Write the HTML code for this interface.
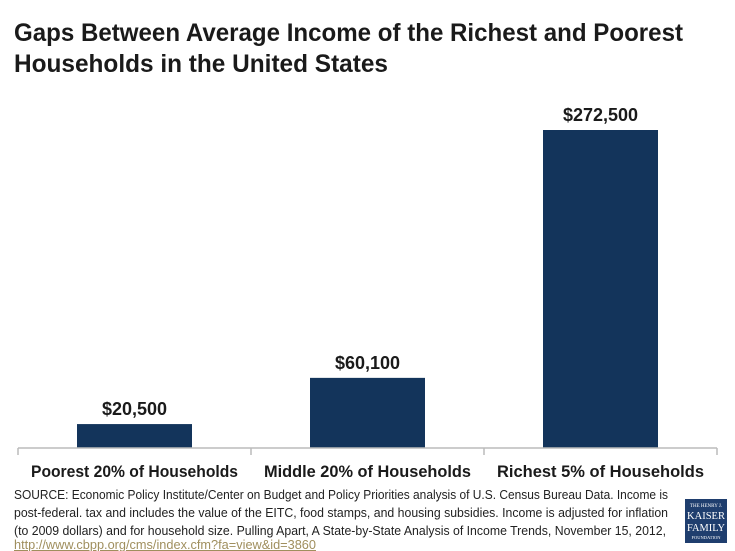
<!DOCTYPE html>
<html><head><meta charset="utf-8"><style>
html,body{margin:0;padding:0;background:#fff;}
svg{display:block;font-family:"Liberation Sans",sans-serif;}
</style></head><body>
<svg id="chart" width="735" height="551" viewBox="0 0 735 551">
<text x="14" y="41" font-size="25" font-weight="bold" fill="#1a1a1a" textLength="669" lengthAdjust="spacingAndGlyphs">Gaps Between Average Income of the Richest and Poorest</text>
<text x="14" y="72" font-size="25" font-weight="bold" fill="#1a1a1a" textLength="374" lengthAdjust="spacingAndGlyphs">Households in the United States</text>
<g id="bars"></g>
<line x1="18" y1="448" x2="717" y2="448" stroke="#bbb" stroke-width="1.5"/>
<g id="ticks"></g>
<g font-size="13" fill="#222">
<text x="14" y="499" textLength="654" lengthAdjust="spacingAndGlyphs">SOURCE: Economic Policy Institute/Center on Budget and Policy Priorities analysis of U.S. Census Bureau Data. Income is</text>
<text x="14" y="517" textLength="654" lengthAdjust="spacingAndGlyphs">post-federal. tax and includes the value of the EITC, food stamps, and housing subsidies. Income is adjusted for inflation</text>
<text x="14" y="535" textLength="652" lengthAdjust="spacingAndGlyphs">(to 2009 dollars) and for household size. Pulling Apart, A State-by-State Analysis of Income Trends, November 15, 2012,</text>
<text x="14" y="549" fill="#a08f5e" text-decoration="underline" textLength="302" lengthAdjust="spacingAndGlyphs">http://www.cbpp.org/cms/index.cfm?fa=view&amp;id=3860</text>
</g>
<g>
<rect x="685" y="499" width="42" height="44" fill="#1f3e6e"/>
<text x="706" y="507" font-size="5" fill="#fff" text-anchor="middle" font-family="Liberation Serif,serif">THE HENRY J.</text>
<text x="706" y="519" font-size="10" fill="#fff" text-anchor="middle" font-family="Liberation Serif,serif" textLength="38" lengthAdjust="spacingAndGlyphs">KAISER</text>
<text x="706" y="531" font-size="10" fill="#fff" text-anchor="middle" font-family="Liberation Serif,serif" textLength="38" lengthAdjust="spacingAndGlyphs">FAMILY</text>
<text x="706" y="539" font-size="4.5" fill="#fff" text-anchor="middle" font-family="Liberation Serif,serif">FOUNDATION</text>
</g>
</svg>
<script>
const categories = ["Poorest 20% of Households","Middle 20% of Households","Richest 5% of Households"];
const values = [20500, 60100, 272500];
const valueLabels = ["$20,500","$60,100","$272,500"];
const yMax = 272500;

const NS = "http://www.w3.org/2000/svg";
const plotLeft = 18, plotRight = 717, baseY = 448, topY = 130;
const band = (plotRight - plotLeft) / categories.length;
const barW = 115;
function xCenter(i){ return plotLeft + band * (i + 0.5); }
function yScale(v){ return baseY - (v / yMax) * (baseY - topY); }

const bars = document.getElementById("bars");
const ticks = document.getElementById("ticks");
for (let i = 0; i <= categories.length; i++) {
  const t = document.createElementNS(NS, "line");
  const x = plotLeft + band * i;
  t.setAttribute("x1", x); t.setAttribute("x2", x);
  t.setAttribute("y1", baseY); t.setAttribute("y2", baseY + 7);
  t.setAttribute("stroke", "#bbb"); t.setAttribute("stroke-width", "1.5");
  
  
  ticks.appendChild(t);
}
categories.forEach((c, i) => {
  const cx = xCenter(i);
  const y = yScale(values[i]);
  const r = document.createElementNS(NS, "rect");
  r.setAttribute("x", cx - barW / 2);
  r.setAttribute("y", y);
  r.setAttribute("width", barW);
  r.setAttribute("height", baseY - y);
  r.setAttribute("fill", "#13345b");
  
  
  bars.appendChild(r);

  const vl = document.createElementNS(NS, "text");
  vl.setAttribute("x", cx);
  vl.setAttribute("y", y - 9);
  vl.setAttribute("text-anchor", "middle");
  vl.setAttribute("font-size", "18");
  vl.setAttribute("font-weight", "bold");
  vl.setAttribute("fill", "#1a1a1a");
  vl.textContent = valueLabels[i];
  
  
  bars.appendChild(vl);

  const cl = document.createElementNS(NS, "text");
  cl.setAttribute("x", cx);
  cl.setAttribute("y", 477);
  cl.setAttribute("text-anchor", "middle");
  cl.setAttribute("font-size", "17");
  cl.setAttribute("font-weight", "bold");
  cl.setAttribute("fill", "#1a1a1a");
  cl.setAttribute("textLength", "207");
  cl.setAttribute("lengthAdjust", "spacingAndGlyphs");
  cl.textContent = c;
  
  
  bars.appendChild(cl);
});
</script>
</body></html>
